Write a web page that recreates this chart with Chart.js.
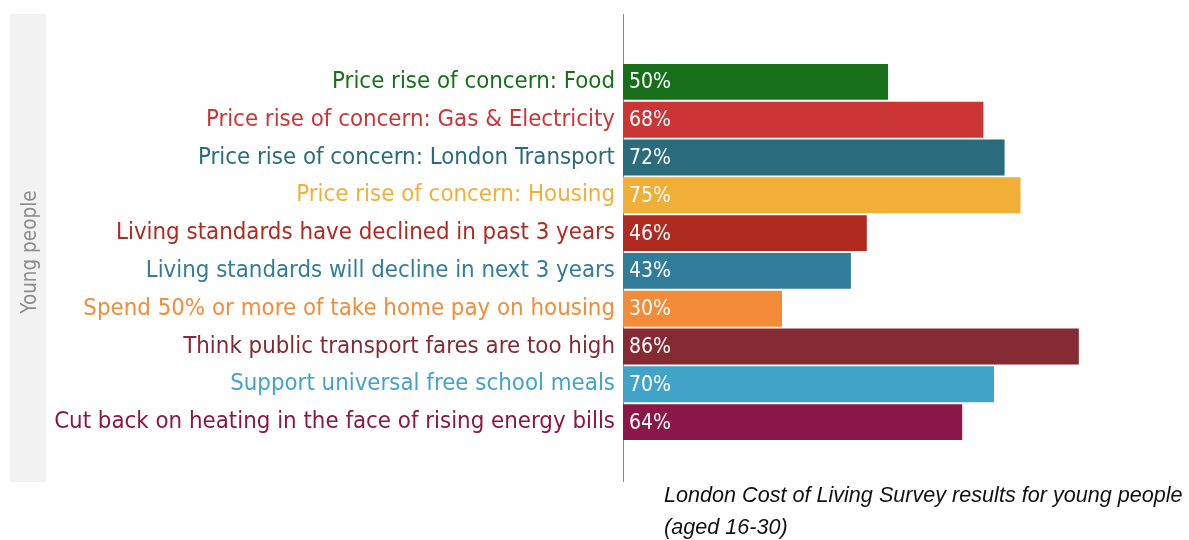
<!DOCTYPE html>
<html>
<head>
<meta charset="utf-8">
<script src="https://cdn.jsdelivr.net/npm/chart.js@4/dist/chart.umd.min.js"></script>
<style>
  html, body { margin: 0; padding: 0; background: #fff; }
  #wrap { position: relative; width: 1189px; height: 540px; }
  #caption {
    position: absolute; left: 664px; top: 479px;
    font-family: "Liberation Sans", Arial, sans-serif; font-style: italic;
    font-size: 21.6px; line-height: 32px; color: #111;
    white-space: nowrap;
  }
</style>
</head>
<body>
<div id="wrap">
  <canvas id="survey-chart" width="1189" height="540"></canvas>
  <div id="caption">London Cost of Living Survey results for young people<br>(aged 16-30)</div>
</div>
<script>
const ctx = document.getElementById("survey-chart");

var labels = [
  "Price rise of concern: Food",
  "Price rise of concern: Gas & Electricity",
  "Price rise of concern: London Transport",
  "Price rise of concern: Housing",
  "Living standards have declined in past 3 years",
  "Living standards will decline in next 3 years",
  "Spend 50% or more of take home pay on housing",
  "Think public transport fares are too high",
  "Support universal free school meals",
  "Cut back on heating in the face of rising energy bills",
];
var values = [50, 68, 72, 75, 46, 43, 30, 86, 70, 64];
var colors = [
  "#177019", "#cc3535", "#2a6b7c", "#f2af38", "#b02a20",
  "#317d99", "#f28c38", "#852a33", "#42a3c8", "#8a1748",
];

const condensed = "'DejaVu Sans Condensed', 'Liberation Sans Narrow', sans-serif";

// grey side panel, the long axis line and the values inside the bars
const decorations = {
  id: "decorations",
  beforeDraw(chart) {
    const c = chart.ctx;
    c.save();
    c.fillStyle = "#f2f2f2";
    c.fillRect(10, 14, 36, 468);
    c.strokeStyle = "#8a8a8a";
    c.lineWidth = 1;
    const x = Math.round(chart.scales.x.getPixelForValue(0)) + 0.5;
    c.beginPath();
    c.moveTo(x, 14);
    c.lineTo(x, 482);
    c.stroke();
    c.restore();
  },
  afterDatasetsDraw(chart) {
    const c = chart.ctx;
    c.save();
    c.fillStyle = "#ffffff";
    c.font = "21px " + condensed;
    c.textBaseline = "middle";
    chart.getDatasetMeta(0).data.forEach((bar, i) => {
      c.fillText(values[i] + "%", bar.base + 6, bar.y + 1);
    });
    c.restore();
  },
};

const myChart = new Chart(ctx, {
  type: "bar",
  data: {
    labels: labels,
    datasets: [
      {
        data: values,
        backgroundColor: colors,
        barPercentage: 0.95,
        categoryPercentage: 1,
      },
    ],
  },
  options: {
    indexAxis: "y",
    responsive: false,
    animation: false,
    layout: { padding: { top: 63, bottom: 99, right: 36, left: 10 } },
    plugins: {
      legend: { display: false },
      tooltip: { enabled: false },
    },
    scales: {
      x: {
        display: false,
        min: 0,
        max: 100,
      },
      y: {
        afterFit(scale) {
          scale.width = 613;
        },
        grid: { display: false },
        border: { display: false },
        ticks: {
          padding: 0,
          color: (c) => colors[c.index],
          font: { size: 23.8, family: condensed },
        },
        title: {
          display: true,
          text: "Young people",
          color: "#8c8c8c",
          font: { size: 20.5, family: condensed },
          padding: { top: 8, bottom: 0 },
        },
      },
    },
  },
  plugins: [decorations],
});
</script>
</body>
</html>
